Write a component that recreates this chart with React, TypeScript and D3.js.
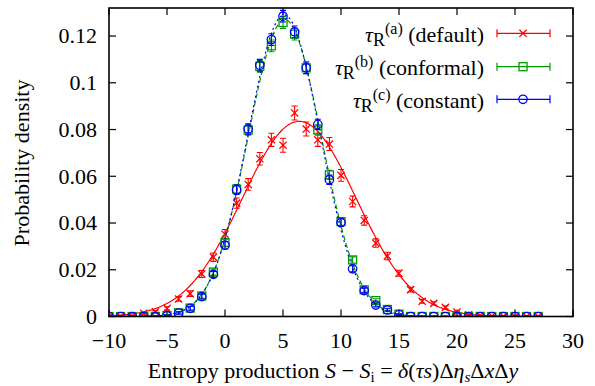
import React from 'react';
import * as d3 from 'd3';

const X_VALUES = [-10, -9, -8, -7, -6, -5, -4, -3, -2, -1, 0, 1, 2, 3, 4, 5, 6, 7, 8, 9, 10, 11, 12, 13, 14, 15, 16, 17, 18, 19, 20, 21, 22, 23, 24, 25, 26, 27];

const DEFAULT_VALUES = [0, 0, 0.0002, 0.0014, 0.002, 0.0035, 0.0075, 0.0098, 0.0182, 0.0254, 0.0352, 0.0485, 0.0565, 0.0675, 0.0756, 0.0733, 0.0871, 0.0802, 0.0756, 0.0738, 0.0604, 0.0492, 0.0411, 0.0314, 0.0259, 0.0185, 0.0115, 0.0065, 0.0056, 0.0039, 0.0019, 0.0007, 0.0004, 0.0002, 0.0001, 0, 0, 0];
const DEFAULT_ERRORS = [0.0002, 0.0002, 0.0002, 0.0004, 0.0005, 0.0007, 0.001, 0.0012, 0.0015, 0.0018, 0.002, 0.0022, 0.0025, 0.0027, 0.0028, 0.003, 0.003, 0.003, 0.0028, 0.0028, 0.0025, 0.0023, 0.002, 0.0018, 0.0016, 0.0013, 0.001, 0.0008, 0.0007, 0.0006, 0.0004, 0.0003, 0.0002, 0.0002, 0.0002, 0.0002, 0.0002, 0.0002];

const CONFORMAL_VALUES = [0, 0, 0, 0, 0, 0.0004, 0.0016, 0.0036, 0.0088, 0.019, 0.0316, 0.0545, 0.0798, 0.107, 0.1158, 0.1258, 0.1208, 0.1064, 0.0798, 0.0606, 0.0406, 0.0242, 0.0114, 0.0068, 0.003, 0.001, 0, 0, 0, 0, 0, 0, 0, 0, 0, 0, 0, 0];
const CONFORMAL_ERRORS = [0.0002, 0.0002, 0.0002, 0.0002, 0.0002, 0.0003, 0.0005, 0.0008, 0.001, 0.0013, 0.0016, 0.002, 0.0022, 0.0025, 0.0025, 0.0025, 0.0025, 0.0025, 0.0022, 0.002, 0.0016, 0.0013, 0.001, 0.0008, 0.0005, 0.0003, 0.0002, 0.0002, 0.0002, 0.0002, 0.0002, 0.0002, 0.0002, 0.0002, 0.0002, 0.0002, 0.0002, 0.0002];

const CONSTANT_VALUES = [0, 0, 0, 0, 0, 0.0003, 0.0015, 0.0035, 0.0085, 0.018, 0.0305, 0.0542, 0.0802, 0.1075, 0.1185, 0.1285, 0.1218, 0.1064, 0.0822, 0.0585, 0.0402, 0.0204, 0.0111, 0.0049, 0.0028, 0.0008, 0, 0, 0, 0, 0, 0, 0, 0, 0, 0, 0, 0];
const CONSTANT_ERRORS = [0.0002, 0.0002, 0.0002, 0.0002, 0.0002, 0.0003, 0.0005, 0.0008, 0.001, 0.0013, 0.0016, 0.002, 0.0022, 0.0025, 0.0025, 0.0025, 0.0025, 0.0025, 0.0022, 0.002, 0.0016, 0.0013, 0.001, 0.0008, 0.0005, 0.0003, 0.0002, 0.0002, 0.0002, 0.0002, 0.0002, 0.0002, 0.0002, 0.0002, 0.0002, 0.0002, 0.0002, 0.0002];

// Gaussian fit parameters drawn as curves
const FIT_DEFAULT = { amp: 0.0835, mu: 6.4, sigma: 4.9 };
const FIT_CONFORMAL = { amp: 0.127, mu: 5.15, sigma: 3.15 };
const FIT_CONSTANT = { amp: 0.129, mu: 5.1, sigma: 3.1 };

const X_TICKS = [-10, -5, 0, 5, 10, 15, 20, 25, 30];
const X_TICK_LABELS = ['\u221210', '\u22125', '0', '5', '10', '15', '20', '25', '30'];
const Y_TICKS = [0, 0.02, 0.04, 0.06, 0.08, 0.1, 0.12];
const Y_TICK_LABELS = ['0', '0.02', '0.04', '0.06', '0.08', '0.1', '0.12'];

const RED = '#ff0000';
const GREEN = '#009a00';
const BLUE = '#0000ff';
const FONT = 'Liberation Serif';

const W = 595;
const H = 386;
const L = 109, R = 573, T = 8, B = 316.5;

const x = d3.scaleLinear().domain([-10, 30]).range([L, R]);
const y = d3.scaleLinear().domain([0, 0.132]).range([B, T]);

const gauss = (p: { amp: number; mu: number; sigma: number }) => (v: number) =>
  p.amp * Math.exp(-((v - p.mu) * (v - p.mu)) / (2 * p.sigma * p.sigma));

const curveSamples = d3.range(-10, 30.0001, 0.1);

function fitPath(p: { amp: number; mu: number; sigma: number }) {
  const f = gauss(p);
  return d3.line<number>().x((d) => x(d)).y((d) => y(f(d)))(curveSamples) || '';
}

type Kind = 'cross' | 'square' | 'circle';

function Marker({ cx, cy, kind, color }: { cx: number; cy: number; kind: Kind; color: string }) {
  if (kind === 'cross') {
    const s = 3.6;
    return (
      <path d={`M${cx - s},${cy - s}L${cx + s},${cy + s}M${cx - s},${cy + s}L${cx + s},${cy - s}`} stroke={color} strokeWidth={1.3} fill="none" />
    );
  }
  if (kind === 'square') {
    const s = 4;
    return <rect x={cx - s} y={cy - s} width={2 * s} height={2 * s} stroke={color} strokeWidth={1.3} fill="none" />;
  }
  return <circle cx={cx} cy={cy} r={4.2} stroke={color} strokeWidth={1.3} fill="none" />;
}

function Series({ values, errors, kind, color }: { values: number[]; errors: number[]; kind: Kind; color: string }) {
  return (
    <g>
      {X_VALUES.map((xv, i) => {
        const cx = x(xv);
        const cy = y(values[i]);
        const y1 = y(values[i] + errors[i]);
        const y0 = y(values[i] - errors[i]);
        const c = 3;
        return (
          <g key={i}>
            <path d={`M${cx},${y0}L${cx},${y1}M${cx - c},${y0}L${cx + c},${y0}M${cx - c},${y1}L${cx + c},${y1}`} stroke={color} strokeWidth={1.1} fill="none" />
            <Marker cx={cx} cy={cy} kind={kind} color={color} />
          </g>
        );
      })}
    </g>
  );
}

function LegendRow({ cy, sup, label, color, kind }: { cy: number; sup: string; label: string; color: string; kind: Kind }) {
  const x0 = 497, x1 = 550, xm = 523;
  return (
    <g>
      <text x={484} y={cy + 8.5} textAnchor="end" fontFamily={FONT} fontSize={22} fill="#000">
        <tspan fontStyle="italic">τ</tspan>
        <tspan dy={4} fontSize={18}>R</tspan>
        <tspan dy={-12} fontSize={16}>{sup}</tspan>
        <tspan dy={8}>{' ' + label}</tspan>
      </text>
      <path d={`M${x0},${cy}L${x1},${cy}M${x0},${cy - 4}L${x0},${cy + 4}M${x1},${cy - 4}L${x1},${cy + 4}`} stroke={color} strokeWidth={1.2} fill="none" />
      <Marker cx={xm} cy={cy} kind={kind} color={color} />
    </g>
  );
}

export default function App() {
  const tick = 7;
  return (
    <svg width={W} height={H} style={{ position: 'absolute', left: 0, top: 0, background: '#fff' }} xmlns="http://www.w3.org/2000/svg">
      <rect x={0} y={0} width={W} height={H} fill="#fff" />
      <defs>
        <clipPath id="plotclip">
          <rect x={L} y={T} width={R - L} height={B - T} />
        </clipPath>
      </defs>

      <g stroke="#000" strokeWidth={1.2}>
        {X_TICKS.map((t, i) => (
          <g key={'xt' + i}>
            <line x1={x(t)} x2={x(t)} y1={B} y2={B - tick} />
            <line x1={x(t)} x2={x(t)} y1={T} y2={T + tick} />
          </g>
        ))}
        {Y_TICKS.map((t, i) => (
          <g key={'yt' + i}>
            <line x1={L} x2={L + tick} y1={y(t)} y2={y(t)} />
            <line x1={R} x2={R - tick} y1={y(t)} y2={y(t)} />
          </g>
        ))}
      </g>

      {X_TICKS.map((t, i) => (
        <text key={'xl' + i} x={x(t)} y={347.5} textAnchor="middle" fontFamily={FONT} fontSize={22} fill="#000">{X_TICK_LABELS[i]}</text>
      ))}
      {Y_TICKS.map((t, i) => (
        <text key={'yl' + i} x={97} y={y(t) + 7.4} textAnchor="end" fontFamily={FONT} fontSize={22} fill="#000">{Y_TICK_LABELS[i]}</text>
      ))}

      <text transform="translate(29,163) rotate(-90)" textAnchor="middle" fontFamily={FONT} fontSize={22} fill="#000">Probability density</text>
      <text x={333} y={378} textAnchor="middle" fontFamily={FONT} fontSize={22} fill="#000">
        <tspan>Entropy production </tspan>
        <tspan fontStyle="italic">S</tspan>
        <tspan>{' \u2212 '}</tspan>
        <tspan fontStyle="italic">S</tspan>
        <tspan dy={4} fontSize={15}>i</tspan>
        <tspan dy={-4}>{' = '}</tspan>
        <tspan fontStyle="italic">δ</tspan>
        <tspan>(</tspan>
        <tspan fontStyle="italic">τs</tspan>
        <tspan>)Δ</tspan>
        <tspan fontStyle="italic">η</tspan>
        <tspan dy={4} fontSize={15} fontStyle="italic">s</tspan>
        <tspan dy={-4}>Δ</tspan>
        <tspan fontStyle="italic">x</tspan>
        <tspan>Δ</tspan>
        <tspan fontStyle="italic">y</tspan>
      </text>

      <g clipPath="url(#plotclip)">
        <path d={fitPath(FIT_DEFAULT)} stroke={RED} strokeWidth={1.2} fill="none" />
        <Series values={DEFAULT_VALUES} errors={DEFAULT_ERRORS} kind="cross" color={RED} />
        <path d={fitPath(FIT_CONFORMAL)} stroke={GREEN} strokeWidth={1.2} fill="none" strokeDasharray="5,3" />
        <Series values={CONFORMAL_VALUES} errors={CONFORMAL_ERRORS} kind="square" color={GREEN} />
        <path d={fitPath(FIT_CONSTANT)} stroke={BLUE} strokeWidth={1.2} fill="none" strokeDasharray="2,3" />
        <Series values={CONSTANT_VALUES} errors={CONSTANT_ERRORS} kind="circle" color={BLUE} />
      </g>

      <LegendRow cy={33.3} sup="(a)" label="(default)" color={RED} kind="cross" />
      <LegendRow cy={66.7} sup="(b)" label="(conformal)" color={GREEN} kind="square" />
      <LegendRow cy={99.3} sup="(c)" label="(constant)" color={BLUE} kind="circle" />

      <rect x={L} y={T} width={R - L} height={B - T} fill="none" stroke="#000" strokeWidth={1.6} />
    </svg>
  );
}
